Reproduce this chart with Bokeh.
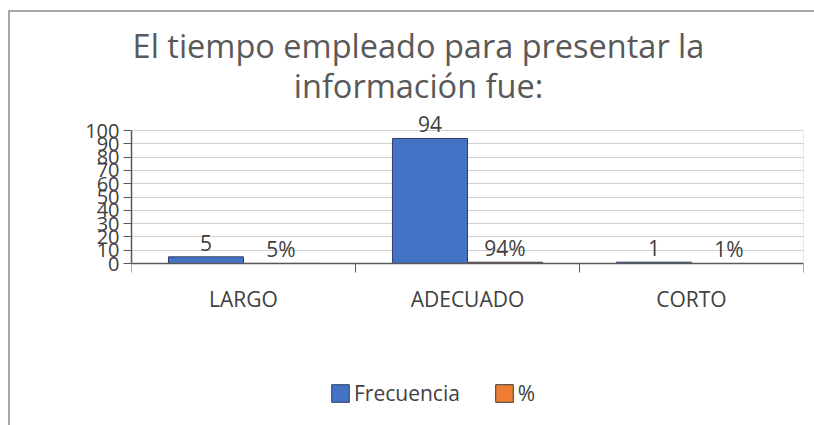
from bokeh.plotting import figure
from bokeh.models import (ColumnDataSource, Range1d, FixedTicker, LabelSet, Legend,
                          LegendItem, Label)
from bokeh.core.properties import value
from bokeh.embed import file_html
from bokeh.resources import INLINE

categories = ["LARGO", "ADECUADO", "CORTO"]
frecuencia = [5, 94, 1]
porcentaje = [0.05, 0.94, 0.01]
y_ticks = [0, 10, 20, 30, 40, 50, 60, 70, 80, 90, 100]
title_lines = ["El tiempo empleado para presentar la", "información fue:"]

FONT = "Open Sans"
TXT = "#404040"
FS = "21px"

idx = list(range(len(categories)))
bw = 0.335
src_f = ColumnDataSource(dict(
    x=[i + 0.5 - bw / 2 for i in idx], y=frecuencia,
    lab=[str(v) for v in frecuencia]))
src_p = ColumnDataSource(dict(
    x=[i + 0.5 + bw / 2 for i in idx], y=porcentaje,
    lab=[f"{round(v * 100)}%" for v in porcentaje]))

# The frame covers the whole canvas height; the x axis is pinned at y = 0.
H = 425
ZERO_Y = 263          # screen row of the value 0
PX_PER_UNIT = 1.33
y_start = -(H - ZERO_Y) / PX_PER_UNIT
y_end = ZERO_Y / PX_PER_UNIT

p = figure(frame_width=672, frame_height=H, output_backend="svg", toolbar_location=None,
           x_range=Range1d(0, len(categories)), y_range=Range1d(y_start, y_end),
           min_border_left=131, min_border_right=11, min_border_top=0,
           min_border_bottom=0, outline_line_color=None,
           border_fill_alpha=0, background_fill_alpha=0)
p.styles = {
    "background": ("linear-gradient(#a6a6a6, #a6a6a6) 9px 10px / 100% 2px no-repeat, "
                   "linear-gradient(#a6a6a6, #a6a6a6) 8px 10px / 2px 100% no-repeat, #ffffff")
}

# right border of the plot area
p.segment(x0=[len(categories)], y0=[y_ticks[0]], x1=[len(categories)], y1=[y_ticks[-1]],
          line_color="#d0d0d0", line_width=1)

rf = p.vbar(x="x", top="y", width=bw, source=src_f, fill_color="#4472C4",
            line_color="#2F3F66", line_width=1)
rp = p.vbar(x="x", top="y", width=bw, source=src_p, fill_color="#ED7D31",
            line_color="#3a3a3a", line_width=1)

for s in (src_f, src_p):
    p.add_layout(LabelSet(x="x", y="y", text="lab", source=s, y_offset=6,
                          text_align="center", text_baseline="alphabetic",
                          text_font=value(FONT), text_font_size=value(FS),
                          text_color=TXT))

# title (two centred lines)
title_x = (418 - 131) / 224.0
for line, sy in zip(title_lines, [45, 85]):
    p.add_layout(Label(x=title_x, y=(ZERO_Y - sy) / PX_PER_UNIT, text=line,
                       text_align="center", text_baseline="middle",
                       text_font=FONT, text_font_size="32.5px", text_color="#595959"))

# axes
p.xgrid.visible = False
p.ygrid.grid_line_color = "#d0d0d0"
p.ygrid.grid_line_width = 1

xa = p.xaxis[0]
xa.fixed_location = 0
xa.ticker = FixedTicker(ticks=[i + 0.5 for i in idx],
                        minor_ticks=[float(i) for i in range(len(categories) + 1)])
xa.major_label_overrides = {i + 0.5: c for i, c in zip(idx, categories)}
xa.major_tick_line_color = None
xa.major_tick_out = 8
xa.major_tick_in = 0
xa.minor_tick_line_color = "#595959"
xa.minor_tick_out = 9
xa.minor_tick_in = 0
xa.major_label_standoff = 12
xa.axis_line_color = "#595959"
xa.axis_line_width = 1.5
xa.major_label_text_font = FONT
xa.major_label_text_font_size = FS
xa.major_label_text_color = TXT

ya = p.yaxis[0]
ya.ticker = FixedTicker(ticks=y_ticks)
ya.minor_tick_line_color = None
ya.major_tick_out = 8
ya.major_tick_in = 0
ya.major_tick_line_color = "#595959"
ya.axis_line_color = "#595959"
ya.axis_line_width = 1.5
ya.major_label_standoff = 4
ya.major_label_text_font = FONT
ya.major_label_text_font_size = "20px"
ya.major_label_text_color = TXT
ya.bounds = (y_ticks[0], y_ticks[-1])

legend = Legend(items=[LegendItem(label="Frecuencia", renderers=[rf]),
                       LegendItem(label="%", renderers=[rp])],
                orientation="horizontal", location=(198, 18),
                border_line_color=None, background_fill_alpha=0,
                glyph_width=22, glyph_height=22, label_standoff=3, spacing=33,
                padding=0, margin=0,
                label_text_font=FONT, label_text_font_size=FS,
                label_text_color=TXT)
p.add_layout(legend, "center")

open("out.html", "w").write(file_html(p, INLINE))
